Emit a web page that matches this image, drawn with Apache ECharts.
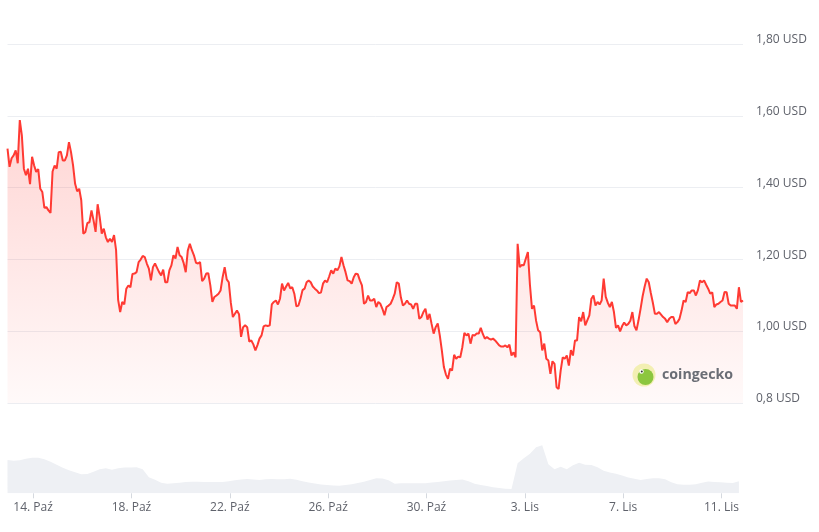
<!DOCTYPE html>
<html>
<head>
<meta charset="utf-8">
<script src="https://cdn.jsdelivr.net/npm/echarts@6/dist/echarts.min.js"></script>
<style>
html,body{margin:0;padding:0;background:#fff;}
#chart{width:819px;height:532px;}
</style>
</head>
<body>
<div id="chart"></div>
<script>
// ---- data ----
const startTime = Date.UTC(2024, 9, 12, 23, 0); // 12 Oct 23:00
const priceStepHours = 2;
const prices = [
1.509,1.458,1.482,1.490,1.504,1.468,1.588,1.546,1.453,1.435,
1.453,1.410,1.486,1.462,1.444,1.452,1.397,1.388,1.344,1.346,
1.337,1.330,1.445,1.462,1.453,1.499,1.500,1.476,1.476,1.490,
1.527,1.499,1.462,1.411,1.390,1.397,1.365,1.272,1.277,1.302,
1.304,1.337,1.309,1.277,1.354,1.318,1.272,1.286,1.262,1.249,
1.258,1.249,1.268,1.226,1.088,1.054,1.082,1.075,1.119,1.128,
1.123,1.160,1.161,1.165,1.193,1.200,1.210,1.207,1.189,1.175,
1.142,1.179,1.189,1.177,1.165,1.156,1.172,1.137,1.137,1.170,
1.184,1.212,1.203,1.235,1.212,1.207,1.190,1.165,1.225,1.244,
1.226,1.212,1.191,1.189,1.193,1.140,1.147,1.161,1.162,1.128,
1.082,1.096,1.100,1.105,1.114,1.151,1.179,1.145,1.137,1.080,
1.040,1.049,1.058,1.048,0.985,1.012,1.017,1.012,0.972,0.975,
0.964,0.947,0.962,0.980,0.989,1.014,1.017,1.015,1.017,1.075,
1.082,1.086,1.075,1.091,1.133,1.114,1.125,1.135,1.120,1.123,
1.105,1.070,1.072,1.091,1.115,1.119,1.137,1.142,1.137,1.125,
1.119,1.114,1.107,1.108,1.133,1.142,1.137,1.153,1.170,1.161,
1.175,1.170,1.181,1.207,1.184,1.165,1.142,1.140,1.133,1.151,
1.161,1.159,1.142,1.128,1.077,1.082,1.100,1.086,1.086,1.091,
1.068,1.082,1.077,1.063,1.045,1.068,1.072,1.077,1.090,1.105,
1.137,1.133,1.095,1.072,1.077,1.086,1.077,1.075,1.063,1.077,
1.077,1.035,1.040,1.054,1.063,1.033,1.049,1.021,0.994,1.012,
1.022,0.989,0.947,0.901,0.880,0.868,0.896,0.891,0.935,0.924,
0.930,0.928,0.956,0.996,0.989,0.994,0.966,0.990,0.989,0.994,
0.994,1.010,0.993,0.980,0.984,0.980,0.977,0.980,0.975,0.968,
0.961,0.958,0.958,0.961,0.956,0.963,0.933,0.942,0.928,1.244,
1.179,1.185,1.184,1.203,1.221,1.130,1.063,1.072,1.030,1.003,
0.998,0.947,0.966,0.924,0.919,0.882,0.917,0.910,0.845,0.840,
0.891,0.928,0.924,0.933,0.905,0.948,0.933,0.975,0.975,1.040,
1.028,1.054,1.017,1.031,1.045,1.091,1.100,1.072,1.082,1.075,
1.086,1.147,1.096,1.080,1.068,1.082,1.054,1.010,1.017,1.000,
1.015,1.025,1.017,1.021,1.030,1.054,1.015,1.003,1.031,1.063,
1.098,1.125,1.147,1.137,1.107,1.080,1.049,1.049,1.054,1.047,
1.040,1.035,1.026,1.035,1.040,1.040,1.021,1.026,1.035,1.058,
1.086,1.082,1.109,1.107,1.114,1.114,1.100,1.115,1.142,1.137,
1.142,1.130,1.119,1.105,1.109,1.068,1.075,1.077,1.082,1.086,
1.110,1.109,1.077,1.072,1.072,1.072,1.063,1.123,1.082,1.086
];
const volumeStepHours = 6;
const volumes = [
66.6,65.2,66,69,71,71.2,68,63,57,51,
46,42,38,38.6,43.2,48,50,47,50,51.6,
51.6,52,48,32,27,21,19,20,21.2,22.4,
23.2,23,22.6,22.6,22.6,22.6,24,26,27.6,28.6,
27.6,26.6,28,28.4,28,28,29.2,27,24,21.6,
19.6,17.6,16.6,15.6,15.2,16.8,18,20.6,23,26.6,
30,29.6,26,19,20,20,20,20,20,21.6,
22.8,24,25.6,26.6,27.6,24,19.2,16.6,14.6,12,
10.4,9.2,8.6,60,70,79,92,96,58,48,
53,48,56,61,57,56.6,52,45,41.6,39,
35.6,31.6,29,26.6,28.6,30,30,28,22,18,
17,17,18,21,23.6,22.6,22,21.2,20.6,24
];
const xTickDates = [
  Date.UTC(2024, 9, 14), Date.UTC(2024, 9, 18), Date.UTC(2024, 9, 22), Date.UTC(2024, 9, 26),
  Date.UTC(2024, 9, 30), Date.UTC(2024, 10, 3), Date.UTC(2024, 10, 7), Date.UTC(2024, 10, 11)
];
const xTickLabels = ['14. Paź','18. Paź','22. Paź','26. Paź','30. Paź','3. Lis','7. Lis','11. Lis'];
const yTickValues = [0.8, 1.0, 1.2, 1.4, 1.6, 1.8];
const yTickLabels = ['0,8 USD','1,00 USD','1,20 USD','1,40 USD','1,60 USD','1,80 USD'];

// ---- build ----
const H = 3600 * 1000;
const priceData = prices.map((v, i) => [startTime + i * priceStepHours * H, v]);
const volumeData = volumes.map((v, i) => [startTime + i * volumeStepHours * H, v]);
const tMin = startTime;
const tMax = startTime + (prices.length - 1) * priceStepHours * H;

const labelFont = { fontFamily: 'Open Sans', fontSize: 12, color: '#5f626b' };

const chart = echarts.init(document.getElementById('chart'), null, { renderer: 'canvas' });
chart.setOption({
  animation: false,
  backgroundColor: '#ffffff',
  grid: [
    { left: 7.5, right: 76, top: 44, height: 359.3 },
    { left: 7.5, right: 76, top: 443.3, height: 50 }
  ],
  xAxis: [
    { type: 'value', gridIndex: 0, min: tMin, max: tMax, show: false, splitLine: { show: false } },
    {
      type: 'value', gridIndex: 1, min: tMin, max: tMax,
      axisLine: { show: false },
      splitLine: { show: false },
      axisTick: { show: true, customValues: xTickDates, length: 5, lineStyle: { color: '#d5d9df', width: 1 } },
      axisLabel: Object.assign({
        customValues: xTickDates,
        margin: 8,
        formatter: function (v) {
          const idx = xTickDates.indexOf(v);
          return idx >= 0 ? xTickLabels[idx] : '';
        }
      }, labelFont)
    }
  ],
  yAxis: [
    {
      type: 'value', gridIndex: 0, position: 'right', min: 0.8, max: 1.8, interval: 0.2,
      axisLine: { show: false }, axisTick: { show: false },
      splitLine: { lineStyle: { color: '#eceef2', width: 1 } },
      axisLabel: Object.assign({
        margin: 13,
        align: 'left',
        verticalAlign: 'bottom',
        lineHeight: 9,
        formatter: function (v) {
          const idx = yTickValues.findIndex(t => Math.abs(t - v) < 1e-6);
          return idx >= 0 ? yTickLabels[idx] : '';
        }
      }, labelFont)
    },
    {
      type: 'value', gridIndex: 1, min: 0, max: 100, show: false,
      splitLine: { show: false }
    }
  ],
  series: [
    {
      name: 'Wolumen', type: 'line', xAxisIndex: 1, yAxisIndex: 1,
      data: volumeData, showSymbol: false, silent: true,
      lineStyle: { width: 0, color: '#eef0f4' },
      areaStyle: { color: '#eef0f4', opacity: 1 },
      z: 1
    },
    {
      name: 'Cena', type: 'line', xAxisIndex: 0, yAxisIndex: 0,
      data: priceData, showSymbol: false, silent: true,
      lineStyle: { width: 2, color: '#ff3a33' },
      itemStyle: { color: '#ff3a33' },
      areaStyle: {
        origin: 'start',
        color: new echarts.graphic.LinearGradient(0, 0, 0, 1, [
          { offset: 0, color: 'rgba(255,58,51,0.30)' },
          { offset: 1, color: 'rgba(255,58,51,0.04)' }
        ])
      },
      z: 3
    }
  ],
  graphic: [
    { type: 'circle', shape: { cx: 644, cy: 375, r: 11.5 }, style: { fill: '#f3efb3' }, z: 10 },
    { type: 'circle', shape: { cx: 645.5, cy: 377, r: 8 }, style: { fill: '#8cc63f' }, z: 11 },
    { type: 'circle', shape: { cx: 641.5, cy: 371.5, r: 2.2 }, style: { fill: '#ffffff' }, z: 12 },
    { type: 'circle', shape: { cx: 641.8, cy: 371.5, r: 1 }, style: { fill: '#333' }, z: 13 },
    {
      type: 'text', x: 662, y: 375, z: 10,
      style: { text: 'coingecko', fontFamily: 'Open Sans', fontSize: 14.2, fontWeight: 'bold', fill: '#6a6d75', verticalAlign: 'middle' }
    }
  ]
});
</script>
</body>
</html>
